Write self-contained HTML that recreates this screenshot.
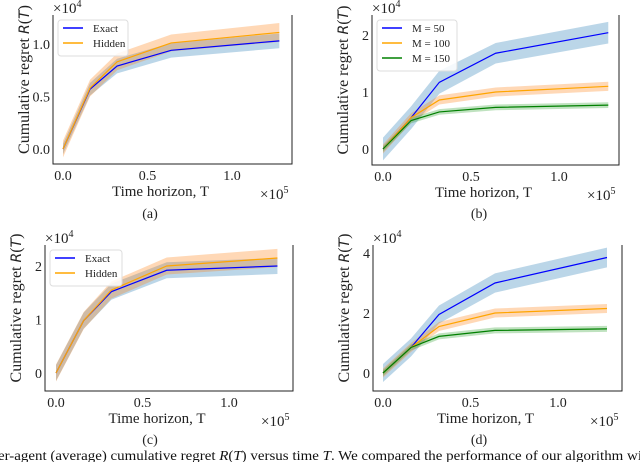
<!DOCTYPE html>
<html><head><meta charset="utf-8"><style>
html,body{margin:0;padding:0;background:#fff;}
svg{display:block;font-family:"Liberation Serif",serif;}
</style></head><body>
<svg id="fig" width="640" height="462" viewBox="0 0 640 462"></svg>
<script>
const tSteps = [0, 0.16, 0.32, 0.64, 1.28];
const aExact = [0, 0.57, 0.79, 0.94, 1.03];
const aHidden = [0, 0.58, 0.83, 1.01, 1.11];
const aExactErr = [0.05, 0.06, 0.07, 0.07, 0.07];
const aHiddenErr = [0.08, 0.08, 0.08, 0.08, 0.09];
const bM50 = [0, 0.55, 1.17, 1.68, 2.04];
const bM100 = [0, 0.55, 0.86, 1.0, 1.1];
const bM150 = [0, 0.5, 0.65, 0.73, 0.77];
const bM50Err = [0.2, 0.2, 0.2, 0.18, 0.19];
const bM100Err = [0.08, 0.08, 0.08, 0.08, 0.08];
const bM150Err = [0.05, 0.05, 0.05, 0.05, 0.05];
const cExact = [0, 0.98, 1.52, 1.92, 2.0];
const cHidden = [0, 0.98, 1.55, 2.0, 2.15];
const cExactErr = [0.15, 0.15, 0.15, 0.15, 0.15];
const cHiddenErr = [0.16, 0.16, 0.16, 0.16, 0.17];
const dM50 = [0, 0.85, 1.95, 3.0, 3.85];
const dM100 = [0, 0.85, 1.55, 2.0, 2.15];
const dM150 = [0, 0.85, 1.22, 1.42, 1.47];
const dM50Err = [0.3, 0.3, 0.3, 0.32, 0.33];
const dM100Err = [0.15, 0.15, 0.15, 0.15, 0.15];
const dM150Err = [0.1, 0.1, 0.1, 0.1, 0.1];
const xTicks = [0, 0.5, 1.0];
const xTickLabels = ["0.0", "0.5", "1.0"];
const aYTicks = [0, 0.5, 1.0];
const aYTickLabels = ["0.0", "0.5", "1.0"];
const bYTicks = [0, 1, 2];
const bYTickLabels = ["0", "1", "2"];
const dYTicks = [0, 2, 4];
const dYTickLabels = ["0", "2", "4"];

const NS = "http://www.w3.org/2000/svg";
const svg = document.getElementById("fig");
const BLUE = "#0000ff", ORANGE = "#ffa500", GREEN = "#008000";
const BAND = {"#0000ff": "rgba(31,119,180,0.3)", "#ffa500": "rgba(255,127,14,0.3)", "#008000": "rgba(44,160,44,0.3)"};
function mk(tag, attrs, parent) {
  const e = document.createElementNS(NS, tag);
  for (const k in attrs) e.setAttribute(k, attrs[k]);
  (parent || svg).appendChild(e);
  return e;
}
function panel(p) {
  const g = mk("g", {});
  
  
  const sx = v => p.x0 + v * p.xs;
  const sy = v => p.y0 - v * p.ys;
  p.series.forEach(s => {
    let d = "";
    tSteps.forEach((t, i) => d += (i ? "L" : "M") + sx(t) + "," + sy(s.v[i] + s.e[i]));
    for (let i = tSteps.length - 1; i >= 0; i--) d += "L" + sx(tSteps[i]) + "," + sy(s.v[i] - s.e[i]);
    const b = mk("path", {d: d + "Z", fill: BAND[s.c], stroke: "none"}, g);
    
    
  });
  p.series.forEach(s => {
    const pts = tSteps.map((t, i) => sx(t) + "," + sy(s.v[i])).join(" ");
    const l = mk("polyline", {points: pts, fill: "none", stroke: s.c, "stroke-width": 1.2}, g);
    
    
  });
  const sp = mk("path", {d: `M${p.L},${p.T}V${p.B}H${p.R}V${p.T}`, fill: "none", stroke: "#222", "stroke-width": 1}, g);
  
  
  xTicks.forEach((t, i) => {
    const tx = mk("text", {x: sx(t), y: p.B + 16, "font-size": 14, "text-anchor": "middle", fill: "#222"}, g);
    tx.textContent = xTickLabels[i];
    
    
  });
  p.yt.forEach((t, i) => {
    const ty = mk("text", {x: p.L - 3, y: sy(t) + 5, "font-size": 14, "text-anchor": "end", fill: "#222"}, g);
    ty.textContent = p.ytl[i];
    
    
  });
  const xl = mk("text", {x: (p.L + p.R) / 2 - 12, y: p.B + 32, "font-size": 15, "text-anchor": "middle", fill: "#222"}, g);
  xl.textContent = "Time horizon, T";
  
  
  const xm = mk("text", {x: p.R - 32, y: p.B + 35, "font-size": 15, fill: "#222"}, g);
  xm.innerHTML = '×10<tspan font-size="10" dy="-6">5</tspan>';
  
  
  const ym = mk("text", {x: p.L, y: p.T - 2, "font-size": 15, fill: "#222"}, g);
  ym.innerHTML = '×10<tspan font-size="10" dy="-6">4</tspan>';
  
  
  const cy = (p.T + p.B) / 2 - 10;
  const yl = mk("text", {x: p.L - 24, y: cy, "font-size": 16, "text-anchor": "middle", fill: "#222", transform: `rotate(-90 ${p.L - 24} ${cy})`}, g);
  yl.innerHTML = 'Cumulative regret <tspan font-family="DejaVu Sans" font-style="italic" font-size="14">R</tspan>(<tspan font-family="DejaVu Sans" font-style="italic" font-size="14">T</tspan>)';
  
  
  if (p.legend) {
    const lg = mk("g", {}, g);
    
    
    const h = p.legend.length * 15 + 6;
    mk("rect", {x: p.L + 5, y: p.T + 5, width: p.lw, height: h, rx: 3, fill: "rgba(255,255,255,0.85)", stroke: "#ddd"}, lg);
    p.legend.forEach((n, i) => {
      const yy = p.T + 13 + i * 15;
      const ll = mk("line", {x1: p.L + 10, x2: p.L + 30, y1: yy, y2: yy, stroke: p.series[i].c, "stroke-width": 1.4}, lg);
      
      
      const lt = mk("text", {x: p.L + 40, y: yy + 4, "font-size": 11, fill: "#222"}, lg);
      lt.textContent = n;
      
      
    });
  }
  const cap = mk("text", {x: p.capX, y: p.capY, "font-size": 14, "text-anchor": "middle", fill: "#222"}, g);
  cap.textContent = "(" + p.id + ")";
  
  
}
panel({id: "a", L: 53, R: 292, T: 15, B: 164, x0: 63, xs: 169, y0: 149, ys: 105, yt: aYTicks, ytl: aYTickLabels,
  series: [{key: "exact", v: aExact, e: aExactErr, c: BLUE}, {key: "hidden", v: aHidden, e: aHiddenErr, c: ORANGE}],
  legend: ["Exact", "Hidden"], lw: 70, capX: 150, capY: 218});
panel({id: "b", L: 372, R: 619, T: 15, B: 165, x0: 383, xs: 176, y0: 149, ys: 57, yt: bYTicks, ytl: bYTickLabels,
  series: [{key: "m50", v: bM50, e: bM50Err, c: BLUE}, {key: "m100", v: bM100, e: bM100Err, c: ORANGE}, {key: "m150", v: bM150, e: bM150Err, c: GREEN}],
  legend: ["M = 50", "M = 100", "M = 150"], lw: 80, capX: 479, capY: 218});
panel({id: "c", L: 45, R: 293, T: 245, B: 391, x0: 56, xs: 173, y0: 373, ys: 53.5, yt: bYTicks, ytl: bYTickLabels,
  series: [{key: "exact", v: cExact, e: cExactErr, c: BLUE}, {key: "hidden", v: cHidden, e: cHiddenErr, c: ORANGE}],
  legend: ["Exact", "Hidden"], lw: 72, capX: 150, capY: 444});
panel({id: "d", L: 373, R: 622, T: 245, B: 391, x0: 383, xs: 175, y0: 373, ys: 30, yt: dYTicks, ytl: dYTickLabels,
  series: [{key: "m50", v: dM50, e: dM50Err, c: BLUE}, {key: "m100", v: dM100, e: dM100Err, c: ORANGE}, {key: "m150", v: dM150, e: dM150Err, c: GREEN}],
  legend: null, capX: 479, capY: 444});
const fc = mk("text", {x: -2, y: 460, "font-size": 13.5, fill: "#111", textLength: 644, lengthAdjust: "spacingAndGlyphs"});
fc.innerHTML = 'er-agent (average) cumulative regret <tspan font-style="italic">R</tspan>(<tspan font-style="italic">T</tspan>) versus time <tspan font-style="italic">T</tspan>. We compared the performance of our algorithm wi';


</script>
</body></html>
